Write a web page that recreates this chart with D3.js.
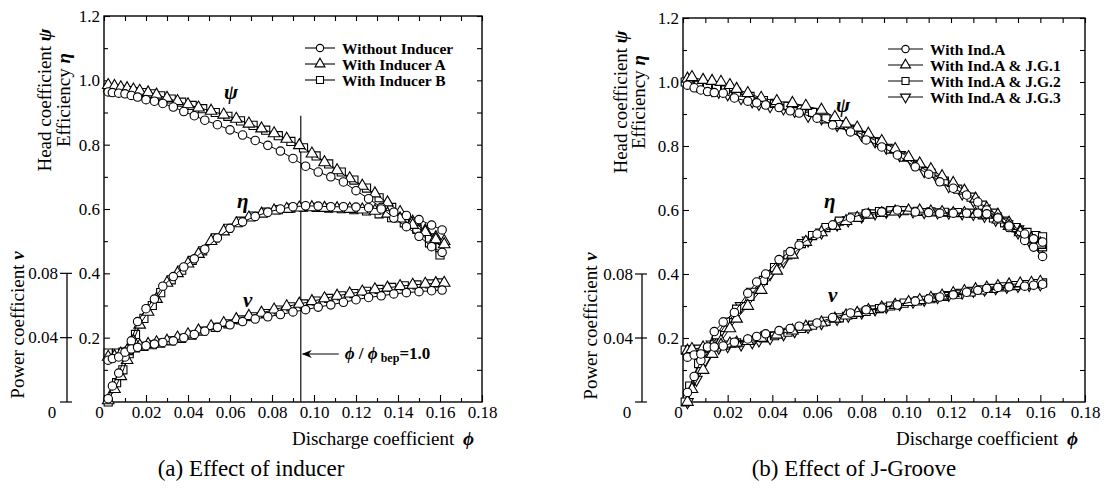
<!DOCTYPE html>
<html>
<head>
<meta charset="utf-8">
<script src="https://cdn.jsdelivr.net/npm/d3@7"></script>
<style>
  body { margin: 0; background: #fff; }
  svg { display: block; font-family: "Liberation Serif", "Times New Roman", Times, "DejaVu Serif", serif; }
  svg text { font-family: "Liberation Serif", "Times New Roman", Times, "DejaVu Serif", serif !important; fill: #000; }
</style>
</head>
<body>
<svg id="chart" width="1111" height="489"></svg>
<script>
// ---------- axis ticks ----------
const xMajor = [0, 0.02, 0.04, 0.06, 0.08, 0.10, 0.12, 0.14, 0.16, 0.18];
const xTickLabels = ["0", "0.02", "0.04", "0.06", "0.08", "0.10", "0.12", "0.14", "0.16", "0.18"];
const xMinor = [0.01, 0.03, 0.05, 0.07, 0.09, 0.11, 0.13, 0.15, 0.17];
const yMajor = [0.2, 0.4, 0.6, 0.8, 1.0, 1.2];
const yTickLabels = ["0.2", "0.4", "0.6", "0.8", "1.0", "1.2"];
const yMinor = [0.1, 0.3, 0.5, 0.7, 0.9, 1.1];
const nuTicks = [0, 0.04, 0.08];
const nuTickLabels = ["0", "0.04", "0.08"];

// ---------- (a) Effect of inducer ----------
const phiWithout = [0.002,0.004,0.007,0.010,0.013,0.016,0.020,0.024,0.028,0.033,0.038,0.043,0.048,0.054,0.060,0.066,0.072,0.078,0.084,0.090,0.096,0.102,0.108,0.114,0.120,0.126,0.132,0.138,0.144,0.150,0.156,0.161];
const psiWithout = [0.964,0.962,0.960,0.958,0.953,0.948,0.940,0.935,0.928,0.917,0.903,0.890,0.876,0.862,0.846,0.830,0.813,0.798,0.780,0.757,0.733,0.715,0.700,0.684,0.657,0.632,0.605,0.572,0.545,0.515,0.483,0.465];
const etaWithout = [0.01,0.05,0.09,0.14,0.19,0.25,0.29,0.32,0.36,0.39,0.42,0.445,0.475,0.51,0.54,0.56,0.577,0.59,0.600,0.607,0.610,0.609,0.607,0.607,0.606,0.604,0.600,0.590,0.580,0.567,0.550,0.535];
const nuWithout = [0.026,0.027,0.028,0.031,0.033,0.034,0.035,0.036,0.037,0.038,0.040,0.042,0.044,0.0464,0.048,0.050,0.0516,0.053,0.0544,0.056,0.0574,0.059,0.0604,0.062,0.0636,0.065,0.066,0.0672,0.068,0.0686,0.0692,0.0696];

const phiIndA = [0.002,0.005,0.008,0.011,0.014,0.017,0.021,0.025,0.030,0.035,0.040,0.045,0.051,0.057,0.063,0.069,0.075,0.081,0.087,0.093,0.099,0.105,0.111,0.117,0.123,0.129,0.135,0.141,0.147,0.153,0.158,0.162];
const psiIndA = [0.985,0.982,0.978,0.975,0.971,0.967,0.962,0.955,0.945,0.935,0.925,0.915,0.905,0.893,0.880,0.865,0.850,0.835,0.818,0.798,0.772,0.745,0.720,0.695,0.672,0.648,0.620,0.590,0.560,0.533,0.512,0.500];
const etaIndA = [0.005,0.04,0.08,0.13,0.19,0.24,0.28,0.32,0.37,0.40,0.43,0.46,0.50,0.53,0.555,0.573,0.585,0.595,0.600,0.604,0.605,0.603,0.602,0.600,0.598,0.594,0.585,0.570,0.550,0.528,0.505,0.490];
const nuIndA = [0.028,0.0284,0.030,0.032,0.034,0.035,0.036,0.037,0.038,0.040,0.042,0.0444,0.047,0.049,0.0514,0.0534,0.0554,0.0574,0.0594,0.061,0.0626,0.0644,0.066,0.0674,0.0686,0.070,0.071,0.072,0.0728,0.0734,0.0738,0.074];

const phiIndB = [0.002,0.006,0.009,0.012,0.015,0.019,0.023,0.027,0.032,0.037,0.042,0.047,0.053,0.059,0.065,0.071,0.077,0.083,0.089,0.095,0.101,0.107,0.113,0.119,0.125,0.131,0.137,0.143,0.149,0.155,0.160];
const psiIndB = [0.975,0.972,0.970,0.968,0.965,0.962,0.958,0.952,0.942,0.932,0.922,0.912,0.900,0.888,0.874,0.860,0.845,0.828,0.810,0.790,0.765,0.740,0.715,0.690,0.665,0.635,0.605,0.575,0.540,0.495,0.457];
const etaIndB = [0.0,0.06,0.10,0.15,0.21,0.26,0.30,0.34,0.38,0.41,0.44,0.47,0.51,0.54,0.562,0.578,0.59,0.598,0.603,0.606,0.605,0.603,0.601,0.598,0.594,0.585,0.573,0.557,0.537,0.51,0.48];
const nuIndB = [0.0304,0.0304,0.031,0.032,0.0336,0.0346,0.0356,0.0366,0.038,0.0396,0.0416,0.044,0.0464,0.0486,0.051,0.053,0.055,0.0572,0.0592,0.061,0.0628,0.0644,0.066,0.0674,0.0688,0.070,0.0712,0.0722,0.0728,0.0734,0.074];

// ---------- (b) Effect of J-Groove ----------
const phiRefA = [0.002,0.005,0.008,0.011,0.014,0.018,0.023,0.029,0.033,0.037,0.043,0.048,0.052,0.060,0.067,0.075,0.082,0.089,0.096,0.104,0.110,0.115,0.121,0.127,0.132,0.136,0.141,0.146,0.153,0.157,0.161];
const psiRefA = [0.990,0.982,0.975,0.970,0.967,0.965,0.950,0.940,0.935,0.928,0.920,0.910,0.903,0.887,0.866,0.844,0.819,0.797,0.772,0.735,0.712,0.688,0.668,0.647,0.625,0.600,0.575,0.545,0.505,0.484,0.455];
const etaRefA = [0.03,0.08,0.13,0.17,0.22,0.25,0.28,0.34,0.375,0.40,0.445,0.47,0.49,0.525,0.553,0.575,0.59,0.594,0.600,0.594,0.592,0.590,0.590,0.590,0.590,0.588,0.575,0.55,0.525,0.51,0.50];
const nuRefA = [0.028,0.0294,0.030,0.0344,0.0344,0.035,0.0374,0.0394,0.041,0.0426,0.0446,0.046,0.0474,0.0494,0.0528,0.0556,0.0576,0.0588,0.0606,0.063,0.0644,0.0656,0.067,0.0686,0.0698,0.071,0.0716,0.072,0.0724,0.073,0.0736];

const phiJG1 = [0.002,0.004,0.009,0.013,0.017,0.021,0.024,0.029,0.035,0.042,0.049,0.055,0.062,0.068,0.073,0.078,0.083,0.089,0.095,0.101,0.106,0.111,0.116,0.121,0.126,0.131,0.136,0.141,0.146,0.151,0.156,0.160];
const psiJG1 = [1.010,1.015,1.006,1.003,1.000,0.990,0.978,0.965,0.950,0.940,0.934,0.925,0.913,0.890,0.870,0.857,0.838,0.815,0.790,0.765,0.745,0.727,0.705,0.684,0.660,0.635,0.605,0.585,0.560,0.535,0.510,0.490];
const etaJG1 = [0.0,0.04,0.10,0.15,0.19,0.23,0.26,0.30,0.35,0.41,0.46,0.50,0.53,0.55,0.565,0.575,0.585,0.59,0.595,0.598,0.598,0.595,0.593,0.59,0.59,0.588,0.585,0.57,0.55,0.53,0.51,0.495];
const nuJG1 = [0.032,0.033,0.034,0.035,0.0356,0.0364,0.037,0.038,0.040,0.042,0.0446,0.047,0.0496,0.052,0.054,0.0556,0.0574,0.059,0.0606,0.0624,0.0636,0.065,0.0664,0.068,0.0692,0.0704,0.0714,0.0724,0.0734,0.074,0.0744,0.075];

const phiJG2 = [0.001,0.003,0.007,0.011,0.015,0.019,0.024,0.030,0.036,0.041,0.047,0.053,0.058,0.064,0.070,0.076,0.082,0.088,0.093,0.099,0.105,0.111,0.117,0.123,0.129,0.134,0.139,0.144,0.149,0.154,0.158,0.161];
const psiJG2 = [1.000,1.000,0.990,0.985,0.980,0.975,0.968,0.955,0.942,0.933,0.925,0.915,0.905,0.885,0.867,0.850,0.830,0.812,0.790,0.765,0.740,0.715,0.690,0.665,0.640,0.615,0.590,0.565,0.545,0.520,0.500,0.485];
const etaJG2 = [0.0,0.05,0.12,0.17,0.21,0.25,0.29,0.33,0.38,0.42,0.46,0.495,0.52,0.545,0.565,0.578,0.588,0.595,0.598,0.598,0.596,0.594,0.593,0.592,0.59,0.585,0.575,0.56,0.545,0.53,0.52,0.516];
const nuJG2 = [0.0325,0.0326,0.033,0.0336,0.0344,0.0356,0.037,0.0386,0.040,0.0414,0.0436,0.046,0.048,0.0504,0.0526,0.0548,0.0566,0.0584,0.060,0.0618,0.0632,0.0646,0.066,0.0674,0.0688,0.070,0.071,0.072,0.0728,0.0734,0.074,0.0744];

const phiJG3 = [0.002,0.006,0.010,0.013,0.016,0.020,0.026,0.031,0.034,0.039,0.045,0.050,0.056,0.062,0.069,0.074,0.080,0.086,0.091,0.097,0.103,0.108,0.114,0.119,0.125,0.130,0.135,0.140,0.145,0.150,0.155,0.160];
const psiJG3 = [1.000,0.990,0.980,0.975,0.970,0.962,0.950,0.940,0.932,0.925,0.918,0.910,0.895,0.887,0.866,0.855,0.835,0.815,0.795,0.772,0.745,0.722,0.698,0.675,0.652,0.630,0.605,0.580,0.555,0.530,0.505,0.480];
const etaJG3 = [0.0,0.07,0.13,0.18,0.21,0.25,0.30,0.345,0.37,0.40,0.44,0.47,0.505,0.53,0.555,0.568,0.58,0.59,0.595,0.597,0.596,0.594,0.593,0.592,0.59,0.588,0.582,0.57,0.555,0.54,0.52,0.50];
const nuJG3 = [0.031,0.0316,0.0326,0.0336,0.034,0.035,0.036,0.0374,0.0386,0.040,0.0424,0.0444,0.047,0.0494,0.052,0.054,0.056,0.058,0.0596,0.0612,0.0628,0.064,0.0656,0.067,0.0684,0.0696,0.0704,0.0712,0.072,0.0726,0.0732,0.0736];

const phiBep = 0.0937;

// ---------- series tables ----------
const seriesInducer = [
  { label: "Without Inducer", mark: "circle",   phi: phiWithout, psi: psiWithout, eta: etaWithout, nu: nuWithout },
  { label: "With Inducer A",  mark: "triangle", phi: phiIndA,    psi: psiIndA,    eta: etaIndA,    nu: nuIndA },
  { label: "With Inducer B",  mark: "square",   phi: phiIndB,    psi: psiIndB,    eta: etaIndB,    nu: nuIndB }
];
const seriesGroove = [
  { label: "With Ind.A",         mark: "circle",   phi: phiRefA, psi: psiRefA, eta: etaRefA, nu: nuRefA },
  { label: "With Ind.A & J.G.1", mark: "triangle", phi: phiJG1,  psi: psiJG1,  eta: etaJG1,  nu: nuJG1 },
  { label: "With Ind.A & J.G.2", mark: "square",   phi: phiJG2,  psi: psiJG2,  eta: etaJG2,  nu: nuJG2 },
  { label: "With Ind.A & J.G.3", mark: "down",     phi: phiJG3,  psi: psiJG3,  eta: etaJG3,  nu: nuJG3 }
];

const SERIF = "'Liberation Serif', 'Times New Roman', Times, 'DejaVu Serif', serif";
const svg = d3.select("#chart");

function symbolPath(mark, scale) {
  const s = scale || 1;
  if (mark === "circle") return d3.symbol().type(d3.symbolCircle).size(56 * s)();
  if (mark === "square") return d3.symbol().type(d3.symbolSquare).size(66 * s)();
  return d3.symbol().type(d3.symbolTriangle).size(58 * s)();
}
function symbolRotate(mark) { return mark === "down" ? " rotate(180)" : ""; }

function drawPanel(cfg) {
  const g = svg.append("g");
  const x = d3.scaleLinear().domain([0, 0.18]).range([cfg.left, cfg.right]);
  const y = d3.scaleLinear().domain([0, 1.2]).range([cfg.bottom, cfg.top]);
  const yNu = d3.scaleLinear().domain([0, 0.24]).range([cfg.bottom, cfg.top]);

  const axisStyle = sel => {
    sel.select(".domain").remove();
    sel.selectAll(".tick line").attr("stroke", "#000").attr("stroke-width", 1.1);
    sel.attr("font-size", 17).attr("font-family", null);
    sel.selectAll("text").style("font-family", SERIF);
  };

  // bottom axis: labelled majors and minors, ticks pointing inward
  g.append("g").attr("transform", `translate(0,${cfg.bottom})`)
    .call(d3.axisBottom(x).tickValues(xMajor).tickSize(-7).tickPadding(4)
      .tickFormat((d, i) => xTickLabels[i]))
    .call(axisStyle)
    .call(s => s.selectAll(".tick text").filter(d => d === 0).attr("dx", -5));
  g.append("g").attr("transform", `translate(0,${cfg.bottom})`)
    .call(d3.axisBottom(x).tickValues(xMinor).tickSize(-4).tickFormat(""))
    .call(axisStyle);
  // top axis
  g.append("g").attr("transform", `translate(0,${cfg.top})`)
    .call(d3.axisTop(x).tickValues(xMajor.concat(xMinor)).tickSize(-5).tickFormat(""))
    .call(axisStyle);
  // left axis
  g.append("g").attr("transform", `translate(${cfg.left},0)`)
    .call(d3.axisLeft(y).tickValues(yMajor).tickSize(-6).tickPadding(4)
      .tickFormat((d, i) => yTickLabels[i]))
    .call(axisStyle);
  g.append("g").attr("transform", `translate(${cfg.left},0)`)
    .call(d3.axisLeft(y).tickValues(yMinor).tickSize(-4).tickFormat(""))
    .call(axisStyle);
  // right axis
  g.append("g").attr("transform", `translate(${cfg.right},0)`)
    .call(d3.axisRight(y).tickValues(yMajor.concat(yMinor)).tickSize(-5).tickFormat(""))
    .call(axisStyle);

  // frame
  g.append("rect")
    .attr("x", cfg.left).attr("y", cfg.top)
    .attr("width", cfg.right - cfg.left).attr("height", cfg.bottom - cfg.top)
    .attr("fill", "none").attr("stroke", "#000").attr("stroke-width", 1.4);

  // separate power-coefficient axis
  const nuG = g.append("g");
  nuG.append("line")
    .attr("x1", cfg.nuX).attr("x2", cfg.nuX)
    .attr("y1", yNu(0)).attr("y2", yNu(0.08))
    .attr("stroke", "#000").attr("stroke-width", 1.3);
  nuG.selectAll("line.nutick").data(nuTicks).join("line").attr("class", "nutick")
    .attr("x1", cfg.nuX - 7).attr("x2", cfg.nuX + 5)
    .attr("y1", d => yNu(d)).attr("y2", d => yNu(d))
    .attr("stroke", "#000").attr("stroke-width", 1.2);
  nuG.selectAll("text").data(nuTicks).join("text")
    .style("font-family", SERIF)
    .attr("font-size", 17)
    .attr("text-anchor", d => d === 0 ? "middle" : "end")
    .attr("x", d => d === 0 ? cfg.nuX - 15 : cfg.nuX - 9)
    .attr("y", d => d === 0 ? cfg.bottom + 16 : yNu(d))
    .attr("dy", d => d === 0 ? 0 : "0.34em")
    .text((d, i) => nuTickLabels[i]);

  // axis titles
  const rot = (tx, ty) => `translate(${tx},${ty}) rotate(-90)`;
  const title = (tx, ty, words, sym) => {
    const t = g.append("text").attr("transform", rot(tx, ty))
      .attr("text-anchor", "middle").attr("font-size", 19).style("font-family", SERIF);
    t.append("tspan").text(words);
    t.append("tspan").attr("font-style", "italic").attr("font-weight", "bold").text(sym);
  };
  title(cfg.headX, cfg.headY, "Head coefficient ", "ψ");
  title(cfg.effX, cfg.headY, "Efficiency ", "η");
  title(cfg.powX, cfg.powY, "Power coefficient ", "ν");

  const t4 = g.append("text").attr("x", cfg.xTitleRight).attr("y", cfg.bottom + 43)
    .attr("text-anchor", "end").attr("font-size", 19).style("font-family", SERIF);
  t4.append("tspan").text("Discharge coefficient ");
  t4.append("tspan").attr("dx", 4).attr("font-style", "italic").attr("font-weight", "bold").text("ϕ");

  g.append("text").attr("x", cfg.captionX).attr("y", 476).style("font-family", SERIF)
    .attr("text-anchor", "middle").attr("font-size", 23).text(cfg.caption);

  // curve name markers inside the plot
  cfg.curveLabels.forEach(c => {
    g.append("text").attr("x", c.x).attr("y", c.y).style("font-family", SERIF)
      .attr("font-size", 21).attr("font-style", "italic").attr("font-weight", "bold")
      .text(c.t);
  });

  if (cfg.bep) {
    g.append("line")
      .attr("x1", x(phiBep)).attr("x2", x(phiBep))
      .attr("y1", y(0.89)).attr("y2", cfg.bottom)
      .attr("stroke", "#222").attr("stroke-width", 1.3);
    const ay = 354;
    g.append("line").attr("x1", x(phiBep) + 2).attr("x2", x(phiBep) + 38)
      .attr("y1", ay).attr("y2", ay).attr("stroke", "#000").attr("stroke-width", 1.2);
    g.append("path")
      .attr("d", `M${x(phiBep) + 1},${ay} L${x(phiBep) + 11},${ay - 4} L${x(phiBep) + 8},${ay} L${x(phiBep) + 11},${ay + 4} Z`)
      .attr("fill", "#000");
    const bt = g.append("text").attr("x", x(phiBep) + 44).attr("y", 359).style("font-family", SERIF)
      .attr("font-size", 17).attr("font-weight", "bold");
    bt.append("tspan").attr("font-style", "italic").text("ϕ");
    bt.append("tspan").text(" / ");
    bt.append("tspan").attr("font-style", "italic").text("ϕ");
    bt.append("tspan").attr("font-size", 12).attr("dx", 3).attr("dy", 3).text("bep");
    bt.append("tspan").attr("dy", -3).text("=1.0");
  }

  // curves: lines first, then markers (first legend entry drawn on top)
  const line = d3.line().x(d => x(d[0])).y(d => d[1]);
  const order = cfg.series.slice().reverse();
  order.forEach(s => {
    const curves = [
      s.phi.map((p, i) => [p, y(s.psi[i])]),
      s.phi.map((p, i) => [p, y(s.eta[i])]),
      s.phi.map((p, i) => [p, yNu(s.nu[i])])
    ];
    const sg = g.append("g");
    curves.forEach(pts => {
      sg.append("path").attr("d", line(pts))
        .attr("fill", "none").attr("stroke", "#000").attr("stroke-width", 1);
    });
    curves.forEach(pts => {
      sg.selectAll(null).data(pts).join("path")
        .attr("d", symbolPath(s.mark))
        .attr("transform", d => `translate(${x(d[0])},${d[1]})` + symbolRotate(s.mark))
        .attr("fill", "#fff").attr("stroke", "#000").attr("stroke-width", 1.1);
    });
  });

  // legend
  const lg = g.append("g");
  cfg.series.forEach((s, i) => {
    const ly = cfg.legend.y + i * 16;
    lg.append("line").attr("x1", cfg.legend.x).attr("x2", cfg.legend.x + cfg.legend.w)
      .attr("y1", ly).attr("y2", ly).attr("stroke", "#000").attr("stroke-width", 1.1);
    lg.append("path").attr("d", symbolPath(s.mark, 0.75))
      .attr("transform", `translate(${cfg.legend.x + cfg.legend.w / 2},${ly})` + symbolRotate(s.mark))
      .attr("fill", "#fff").attr("stroke", "#000").attr("stroke-width", 1.1);
    lg.append("text").attr("x", cfg.legend.x + cfg.legend.w + 7).attr("y", ly + 6)
      .style("font-family", SERIF)
      .attr("font-size", 15.5).attr("font-weight", "bold").text(s.label);
  });
}

drawPanel({
  left: 104, right: 482, top: 16, bottom: 402, nuX: 67,
  headX: 51, effX: 70, headY: 100, powX: 24, powY: 325,
  xTitleRight: 474, captionX: 251, caption: "(a) Effect of inducer",
  series: seriesInducer, bep: true,
  legend: { x: 305, y: 48, w: 30 },
  curveLabels: [{ t: "ψ", x: 224, y: 99 }, { t: "η", x: 237, y: 208 }, { t: "ν", x: 243, y: 307 }]
});

drawPanel({
  left: 683, right: 1085, top: 18, bottom: 402, nuX: 642,
  headX: 627, effX: 645, headY: 102, powX: 597, powY: 326,
  xTitleRight: 1078, captionX: 854, caption: "(b) Effect of J-Groove",
  series: seriesGroove, bep: false,
  legend: { x: 888, y: 49, w: 35 },
  curveLabels: [{ t: "ψ", x: 836, y: 112 }, { t: "η", x: 824, y: 208 }, { t: "ν", x: 828, y: 302 }]
});
</script>
</body>
</html>
